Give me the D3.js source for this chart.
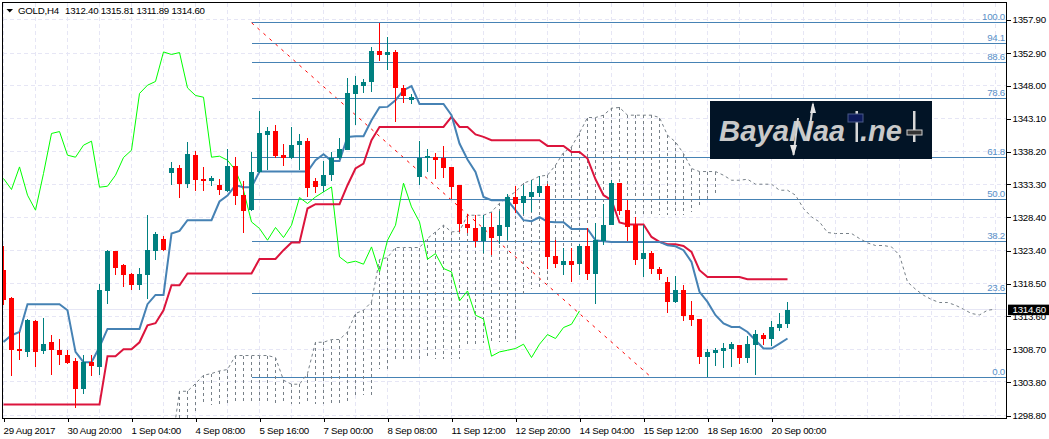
<!DOCTYPE html>
<html><head><meta charset="utf-8">
<script src="https://cdnjs.cloudflare.com/ajax/libs/d3/7.8.5/d3.min.js"></script>
<style>html,body{margin:0;padding:0;background:#fff;overflow:hidden}svg{display:block}text{font-family:"Liberation Sans",sans-serif;font-size:9.7px;letter-spacing:-0.25px;fill:#000;stroke:none}</style>
</head><body><svg id="c" width="1049" height="439"></svg>
<script>
const opens=[1320.5,1316.4,1308.69,1308.3,1312.87,1308.4,1309.73,1308.64,1307.9,1306.9,1302.72,1306.75,1306.0,1317.35,1323.32,1321.23,1319.88,1318.24,1319.73,1323.32,1325.11,1334.96,1335.71,1333.32,1337.65,1334.06,1333.77,1333.17,1332.27,1336.0,1331.68,1329.44,1335.11,1340.63,1341.23,1337.65,1337.2,1339.14,1339.74,1333.77,1333.02,1334.66,1337.2,1338.39,1346.75,1347.95,1348.54,1353.17,1352.57,1353.02,1347.65,1345.86,1334.41,1337.3,1337.35,1337.2,1335.85,1333.17,1327.35,1326.75,1324.81,1326.9,1325.56,1326.9,1331.38,1330.48,1331.38,1331.97,1333.02,1322.57,1321.23,1321.83,1321.38,1324.06,1319.88,1324.81,1327.2,1333.47,1329.44,1327.2,1322.12,1323.02,1320.63,1318.69,1315.71,1317.5,1313.77,1313.17,1307.5,1308.09,1308.39,1308.69,1309.29,1307.35,1309.29,1310.78,1310.18,1311.83,1312.40];
const highs=[1324.1,1316.5,1311.27,1313.17,1313.02,1313.42,1310.78,1310.19,1308.54,1307.45,1307.9,1307.9,1318.5,1323.47,1323.32,1321.48,1320.08,1320.88,1328.69,1326.15,1325.56,1336.6,1336.15,1339.59,1338.24,1335.85,1334.51,1334.06,1338.54,1337.35,1333.77,1338.09,1344.21,1341.83,1342.12,1339.29,1341.83,1340.78,1340.18,1334.21,1336.75,1338.09,1340.18,1349.14,1349.44,1348.99,1353.77,1357.35,1355.26,1353.32,1348.09,1346.75,1339.74,1338.54,1337.95,1338.99,1335.85,1333.17,1328.84,1328.69,1328.69,1328.99,1329.29,1331.83,1333.02,1333.17,1333.91,1334.51,1333.32,1324.96,1323.77,1323.77,1324.36,1326.75,1327.5,1330.33,1333.91,1333.47,1330.93,1328.39,1327.2,1323.32,1320.93,1319.44,1319.59,1318.24,1315.86,1313.17,1308.69,1308.84,1309.59,1309.74,1309.29,1310.63,1311.53,1311.08,1312.87,1314.06,1315.81];
const lows=[1315.3,1304.7,1307.05,1307.54,1306.05,1308.05,1304.81,1306.31,1306.46,1299.93,1302.08,1304.66,1304.81,1315.41,1319.73,1317.99,1317.5,1317.5,1316.15,1321.97,1323.32,1333.17,1331.23,1332.72,1332.27,1332.27,1333.02,1331.68,1332.12,1330.18,1326.0,1329.29,1334.96,1335.41,1337.2,1336.0,1337.05,1335.41,1331.38,1331.97,1332.12,1333.77,1337.05,1338.39,1342.12,1346.9,1347.05,1351.68,1350.33,1342.57,1345.41,1345.26,1333.17,1335.11,1334.06,1334.21,1331.08,1326.15,1326.0,1323.92,1323.02,1322.72,1324.36,1324.96,1328.99,1328.84,1329.14,1331.38,1320.63,1320.78,1319.73,1318.69,1319.73,1318.99,1315.41,1324.21,1327.2,1328.69,1324.81,1321.23,1319.44,1319.88,1318.99,1314.06,1315.56,1312.87,1312.12,1306.46,1304.51,1306.16,1305.86,1306.0,1306.46,1306.6,1304.81,1309.29,1309.14,1311.38,1311.89];
const closes=[1316.1,1308.54,1308.39,1313.02,1308.29,1309.54,1308.59,1307.84,1306.6,1302.72,1306.75,1306.16,1317.5,1323.32,1320.78,1319.73,1318.24,1319.88,1323.47,1325.86,1323.47,1335.71,1333.32,1337.8,1333.91,1333.77,1334.21,1332.42,1336.0,1331.53,1329.29,1335.11,1340.93,1341.23,1337.5,1337.2,1339.14,1339.74,1332.72,1332.87,1334.66,1337.2,1338.54,1346.9,1348.09,1348.54,1353.17,1352.57,1353.02,1347.65,1346.45,1346.3,1337.24,1337.5,1336.9,1335.71,1332.87,1327.35,1326.75,1324.81,1326.9,1325.26,1327.2,1331.38,1330.33,1331.53,1332.12,1333.02,1322.42,1321.38,1321.83,1321.23,1324.06,1319.88,1324.96,1327.2,1333.47,1329.29,1326.9,1321.97,1323.02,1320.63,1319.88,1315.71,1317.5,1313.62,1313.02,1307.5,1308.24,1308.54,1308.84,1309.44,1307.35,1309.44,1310.93,1310.18,1311.98,1312.42,1314.60];
const tenkan=[1309.78,1310.78,1311.27,1315.41,1315.41,1315.41,1315.41,1315.41,1314.51,1308.29,1306.75,1306.75,1309.03,1311.72,1311.72,1311.72,1311.72,1311.72,1315.41,1316.8,1316.8,1325.96,1326.35,1327.95,1327.95,1327.95,1327.95,1330.74,1331.63,1333.17,1332.87,1332.87,1335.21,1335.21,1335.21,1335.21,1335.21,1335.21,1335.21,1336.9,1337.8,1336.8,1336.8,1340.38,1340.48,1340.48,1342.87,1344.81,1344.86,1345.86,1347.35,1347.95,1345.3,1345.3,1345.3,1345.3,1343.62,1339.39,1337.0,1335.15,1331.42,1330.93,1330.93,1330.93,1329.44,1327.95,1327.8,1328.39,1327.72,1327.65,1327.65,1326.65,1326.65,1326.65,1324.96,1324.81,1324.71,1324.71,1324.71,1324.71,1324.71,1324.71,1324.71,1324.21,1324.06,1323.47,1321.72,1317.25,1315.75,1313.77,1312.53,1312.02,1312.02,1311.27,1310.03,1308.8,1308.8,1309.54,1310.29];
const kijun=[1300.44,1300.44,1300.44,1300.44,1300.44,1300.44,1300.44,1300.44,1300.44,1300.44,1300.44,1300.44,1300.44,1307.65,1307.65,1308.69,1308.69,1309.73,1312.27,1312.57,1314.51,1318.24,1318.24,1319.99,1319.99,1319.99,1319.99,1319.99,1319.99,1319.99,1319.99,1319.99,1322.17,1322.17,1322.17,1323.47,1324.62,1324.62,1329.69,1330.33,1330.33,1330.33,1330.33,1333.17,1335.66,1336.41,1339.88,1341.87,1341.87,1341.87,1341.87,1341.87,1341.87,1341.87,1341.87,1341.87,1343.36,1341.87,1341.87,1340.74,1340.38,1339.88,1339.88,1339.88,1339.88,1339.88,1339.88,1339.88,1339.03,1339.03,1339.03,1338.14,1338.14,1337.15,1334.06,1331.68,1330.93,1327.6,1327.3,1327.3,1327.3,1325.45,1324.71,1324.36,1324.36,1324.11,1323.21,1320.48,1319.48,1319.48,1319.48,1319.48,1319.48,1319.14,1319.14,1319.14,1319.14,1319.14,1319.14];
const chikou=[1334.17,1332.53,1335.9,1331.68,1329.44,1334.92,1340.89,1341.18,1337.65,1337.35,1339.14,1339.74,1332.87,1333.02,1334.66,1337.3,1338.39,1346.86,1348.09,1348.65,1353.06,1352.68,1352.97,1347.69,1346.56,1346.3,1337.35,1337.5,1336.9,1335.41,1332.42,1327.69,1326.71,1324.96,1326.86,1325.36,1327.2,1331.33,1330.44,1331.42,1332.17,1332.91,1322.47,1321.57,1321.83,1321.38,1323.96,1320.23,1324.96,1327.2,1333.47,1329.93,1327.69,1322.12,1322.97,1320.74,1320.23,1315.9,1317.39,1313.77,1313.21,1307.65,1308.29,1308.54,1308.8,1309.44,1307.45,1309.44,1310.88,1310.29,1311.93,1312.42,1314.41];
const spanTopStart=21;
const spanTop=[1294.07,1302.42,1302.42,1303.57,1304.81,1305.06,1305.45,1305.66,1307.75,1307.75,1307.75,1307.75,1307.75,1307.45,1304.07,1303.47,1303.47,1305.06,1309.73,1309.73,1310.14,1310.14,1311.27,1314.02,1314.51,1315.75,1322.08,1322.38,1323.87,1323.87,1323.87,1323.87,1325.21,1326.2,1327.2,1326.2,1326.3,1328.69,1328.69,1328.69,1329.18,1330.48,1331.42,1332.17,1333.47,1333.91,1334.51,1334.66,1336.15,1338.05,1338.89,1340.97,1343.27,1343.27,1343.62,1344.66,1344.77,1343.62,1343.62,1343.62,1343.62,1343.27,1340.63,1339.63,1337.9,1335.66,1335.21,1335.21,1335.21,1334.66,1333.91,1333.91,1334.06,1333.32,1333.32,1333.32,1332.42,1332.42,1331.68,1329.69,1328.44,1327.69,1326.11,1325.96,1325.96,1325.96,1325.21,1324.56,1324.17,1324.17,1323.96,1322.72,1318.74,1317.65,1316.75,1316.11,1315.66,1315.66,1315.26,1314.66,1314.02,1313.81,1314.51,1314.66];
const spanBottomStart=22;
const spanBottom=[1298.35,1298.35,1299.1,1300.34,1300.34,1300.49,1300.49,1300.49,1300.49,1300.49,1300.49,1300.49,1300.49,1300.49,1300.49,1300.49,1300.49,1300.49,1300.49,1300.49,1300.49,1300.49,1301.83,1301.83,1301.83,1305.81,1305.81,1307.3,1307.3,1307.3,1307.3,1307.3,1307.3,1307.3,1307.3,1307.3,1309.54,1309.54,1309.59,1309.59,1309.73,1309.73,1309.78,1317.0,1317.75,1317.75,1318.5,1324.96,1323.77,1323.47,1325.41,1327.2,1328.24,1328.54,1328.69,1328.69,1328.69,1328.69,1328.69,1328.69,1328.69,1328.69,1328.69,1328.69,1329.18,1329.84,1330.93,1331.53];
const fibLabels=["100.0","94.1","88.6","78.6","61.8","50.0","38.2","23.6","0.0"];
const fibPrices=[1357.42,1354.32,1351.48,1346.11,1337.3,1331.03,1324.76,1317.0,1304.47];
const fibStart=31, trendEnd=81;
const priceTicks=[1357.9,1352.9,1348.0,1343.1,1338.2,1333.3,1328.4,1323.4,1318.5,1313.6,1308.7,1303.8,1298.8];
const dateLabels=["29 Aug 2017","30 Aug 20:00","1 Sep 04:00","4 Sep 08:00","5 Sep 16:00","7 Sep 00:00","8 Sep 08:00","11 Sep 12:00","12 Sep 20:00","14 Sep 04:00","15 Sep 12:00","18 Sep 16:00","20 Sep 00:00"];
const ohlcTitle="GOLD,H4", ohlcValues="1312.40 1315.81 1311.89 1314.60", lastPrice=1314.60;

const L=2.5,T=2.5,R=1006.5,B=418.5;
const x=d3.scaleLinear().domain([0,125]).range([3.5,1003.5]);
const y=d3.scaleLinear().domain([1298.8,1357.9]).range([415.5,19.5]);
const px=v=>Math.floor(v)+0.5;
const svg=d3.select("#c");
svg.append("defs").append("clipPath").attr("id","plot").append("rect").attr("x",3).attr("y",3).attr("width",1003).attr("height",415);
const plot=svg.append("g").attr("clip-path","url(#plot)");

// grid
const grid=plot.append("g").attr("stroke","#e6e6f5").attr("stroke-dasharray","4 3").attr("shape-rendering","crispEdges");
grid.selectAll(".h").data(priceTicks).join("line").attr("x1",3).attr("x2",1006).attr("y1",d=>px(y(d))).attr("y2",d=>px(y(d)));
grid.selectAll(".v").data(d3.range(0,125,4)).join("line").attr("x1",d=>x(d)).attr("x2",d=>x(d)).attr("y1",3).attr("y2",418);
plot.append("line").attr("x1",3).attr("x2",1006).attr("y1",px(y(lastPrice))).attr("y2",px(y(lastPrice))).attr("stroke","#e6e6f5").attr("stroke-width",1).attr("shape-rendering","crispEdges");

// Fibonacci
const fib=plot.append("g");
fib.append("line").attr("x1",x(fibStart)).attr("y1",y(fibPrices[0])).attr("x2",x(trendEnd)).attr("y2",y(fibPrices[8])).attr("stroke","#ff0000").attr("stroke-dasharray","3 5");
fib.selectAll(".f").data(fibPrices).join("line").attr("x1",x(fibStart)).attr("x2",1006).attr("y1",d=>px(y(d))).attr("y2",d=>px(y(d))).attr("stroke","#4682b4").attr("shape-rendering","crispEdges");

// cloud
const cloud=plot.append("g");
cloud.selectAll(".hatch").data(spanBottom).join("line")
  .attr("x1",(d,i)=>x(i+spanBottomStart)).attr("x2",(d,i)=>x(i+spanBottomStart))
  .attr("y1",(d,i)=>y(spanTop[i+spanBottomStart-spanTopStart])).attr("y2",d=>y(d))
  .attr("stroke","#778088").attr("stroke-dasharray","3 3").attr("shape-rendering","crispEdges");
const lineAt=(start)=>d3.line().x((d,i)=>x(i+start)).y(d=>y(d));
cloud.append("path").attr("d",lineAt(spanTopStart)(spanTop)).attr("fill","none").attr("stroke","#778088").attr("stroke-dasharray","3 3");

// ichimoku lines
plot.append("path").attr("d",lineAt(0)(chikou)).attr("fill","none").attr("stroke","#00ff00").attr("stroke-width",1);
plot.append("path").attr("d",lineAt(0)(kijun)).attr("fill","none").attr("stroke","#dc143c").attr("stroke-width",2);
plot.append("path").attr("d",lineAt(0)(tenkan)).attr("fill","none").attr("stroke","#4682b4").attr("stroke-width",2);

// candles
const candles=plot.append("g").attr("shape-rendering","crispEdges");
const col=i=>closes[i]>=opens[i]?"#008080":"#ff0000";
candles.selectAll(".w").data(closes).join("line").attr("x1",(d,i)=>x(i)).attr("x2",(d,i)=>x(i))
  .attr("y1",(d,i)=>y(highs[i])).attr("y2",(d,i)=>y(lows[i])).attr("stroke",(d,i)=>col(i));
candles.selectAll(".b").data(closes).join("rect").attr("x",(d,i)=>x(i)-2.5).attr("width",5)
  .attr("y",(d,i)=>y(Math.max(opens[i],closes[i])))
  .attr("height",(d,i)=>Math.max(1,Math.abs(y(opens[i])-y(closes[i]))))
  .attr("fill",(d,i)=>col(i));

// fib labels
svg.append("g").selectAll("text").data(fibLabels).join("text").text(d=>d)
  .attr("x",1005).attr("y",(d,i)=>px(y(fibPrices[i]))-2.5).attr("text-anchor","end").style("fill","#5a90c8");

// watermark
const wm=svg.append("g");
wm.append("rect").attr("x",710).attr("y",101).attr("width",222).attr("height",58).attr("fill","#021426");
const wmText=(t,px0,w)=>wm.append("text").text(t).attr("x",px0).attr("y",141).attr("textLength",w).attr("lengthAdjust","spacingAndGlyphs").style("font-size","29px").style("font-weight","bold").style("font-style","italic").style("fill","#c9c9c9").style("letter-spacing","0");
wmText("Baya",719,70); wmText("N",789,24); wmText("aa",813,32); wmText(".ne",860,42);
wm.append("path").attr("d","M793.5 155L798 118M813 104L808 141").attr("stroke","#d5d5d5").attr("stroke-width",2).attr("fill","none");
wm.append("path").attr("d","M813 102L816 113L810 113ZM793.5 156L790 145L797 145Z").attr("fill","#e5e5e5");
wm.append("rect").attr("x",855.5).attr("y",111).attr("width",2.5).attr("height",31).attr("fill","#d8d8d8");
wm.append("rect").attr("x",848).attr("y",114).attr("width",15).attr("height",8).attr("fill","#0c1a5a").attr("stroke","#4a5a88");
wm.append("rect").attr("x",913).attr("y",111).attr("width",2.5).attr("height",31).attr("fill","#d8d8d8");
wm.append("rect").attr("x",907).attr("y",130).attr("width",15).attr("height",5).attr("fill","#333").attr("stroke","#cfcfcf");

// frame
svg.append("rect").attr("x",L).attr("y",T).attr("width",R-L).attr("height",B-T).attr("fill","none").attr("stroke","#000").attr("shape-rendering","crispEdges");

// axes
const xAxis=d3.axisBottom(x).tickValues(dateLabels.map((d,i)=>i*8)).tickSize(3).tickFormat((d,i)=>dateLabels[i]);
const gx=svg.append("g").attr("transform",`translate(0,${B})`).call(xAxis);
gx.select(".domain").remove();
gx.selectAll("text").attr("text-anchor","start").attr("x",-0.5).attr("y",8).attr("dy","0").attr("dominant-baseline","hanging").style("font-size","9.7px").style("font-family",'"Liberation Sans",sans-serif').style("fill","#000");
gx.selectAll("line").attr("stroke","#000").attr("shape-rendering","crispEdges");

const yAxis=d3.axisRight(y).tickValues(priceTicks).tickSize(4).tickFormat(d3.format(".2f"));
const gy=svg.append("g").attr("transform",`translate(${R},0)`).call(yAxis);
gy.select(".domain").remove();
gy.selectAll("text").attr("x",6).style("font-size","9.7px").style("font-family",'"Liberation Sans",sans-serif').style("fill","#000");
gy.selectAll("line").attr("stroke","#000").attr("shape-rendering","crispEdges");

// last-price tag
svg.append("rect").attr("x",1008).attr("y",y(lastPrice)-5).attr("width",41).attr("height",10.5).attr("fill","#000");
svg.append("text").text(d3.format(".2f")(lastPrice)).attr("x",1012.5).attr("y",y(lastPrice)+3.5).style("fill","#fff");

// header
svg.append("path").attr("d","M6.5 9H13L9.75 12.5Z").attr("fill","#000");
svg.append("text").text(ohlcTitle).attr("x",18).attr("y",14);
svg.append("text").text(ohlcValues).attr("x",65).attr("y",14);
</script></body></html>
